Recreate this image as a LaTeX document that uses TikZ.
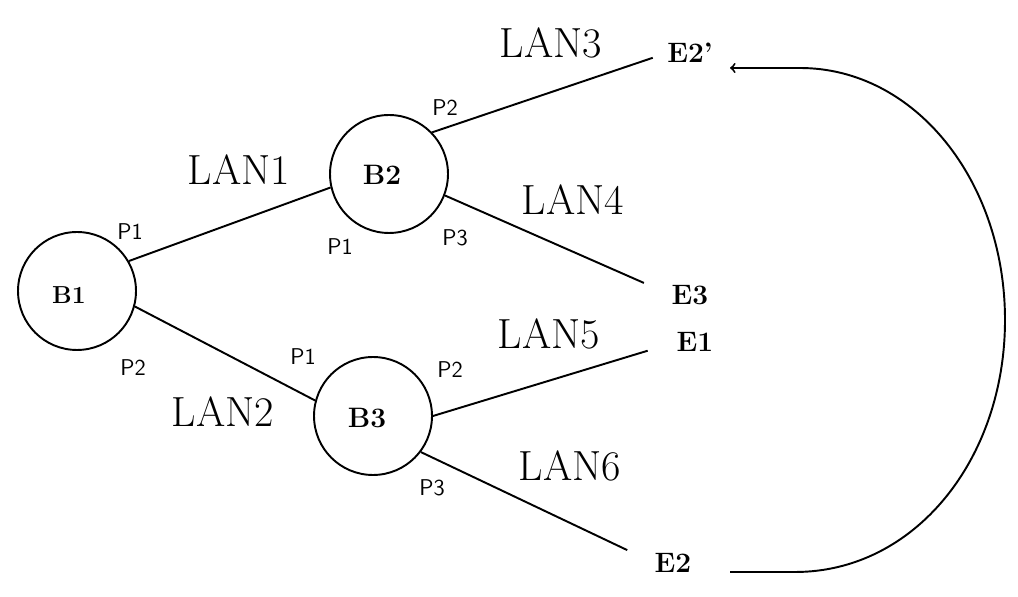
\documentclass[tikz,border=0pt]{standalone}
\usepackage{tikz}
\usetikzlibrary{positioning}

\begin{document}
\begin{tikzpicture}[
    x=0.02cm, y=-0.02cm,
    bridge/.style={circle, draw, line width=1.1pt, minimum size=2.36cm, inner sep=0pt},
    station/.style={inner sep=0pt, font=\fontsize{16}{18}\selectfont\bfseries},
    lanlbl/.style={font=\fontsize{24}{26}\selectfont},
    portlbl/.style={font=\fontsize{13}{15}\selectfont\sffamily},
    wire/.style={line width=1.1pt},
    backarc/.style={->, line width=1.1pt, >=to},
]
\useasboundingbox (0,0) rectangle (1018,597);

% bridges
\node[bridge] (B1) at (77,291) {};
\node[bridge] (B2) at (389,174) {};
\node[bridge] (B3) at (373,416) {};
\node at (69,295) {\fontsize{14}{16}\selectfont\bfseries B1};
\node at (382,175) {\fontsize{16}{18}\selectfont\bfseries B2};
\node at (367,418) {\fontsize{16}{18}\selectfont\bfseries B3};

% end stations
\node[station] (E2p) at (690,53) {E2'};
\node[station] (E3) at (690,295) {E3};
\node[station] (E1) at (695,342) {E1};
\node[station] (E2) at (673,563) {E2};

% LAN segments
\draw[wire] (B1.30) -- (B2.193);
\draw[wire] (B1.-15) -- (B3.165);
\draw[wire, shorten >=0.3cm] (B2.44) -- (E2p.west);
\draw[wire, shorten >=0.6cm] (B2.-21) -- (E3.west);
\draw[wire, shorten >=0.6cm] (B3.0) -- (E1.west);
\draw[wire, shorten >=0.6cm] (B3.-37) -- (E2.west);

\node[lanlbl] (lan1) at (239,170) {LAN1};
\node[lanlbl] (lan2) at (223,412) {LAN2};
\node[lanlbl] (lan3) at (551,43) {LAN3};
\node[lanlbl] (lan4) at (573,200) {LAN4};
\node[lanlbl] (lan5) at (549,334) {LAN5};
\node[lanlbl] (lan6) at (570,466) {LAN6};

% ports
\node[portlbl] (b1p1) at (130,232) {P1};
\node[portlbl] (b1p2) at (133,368) {P2};
\node[portlbl] (b2p1) at (340,247) {P1};
\node[portlbl] (b2p2) at (445,108) {P2};
\node[portlbl] (b2p3) at (455,238) {P3};
\node[portlbl] (b3p1) at (303,357) {P1};
\node[portlbl] (b3p2) at (450,370) {P2};
\node[portlbl] (b3p3) at (432,488) {P3};

% E2 moves over to LAN3
\coordinate (moveS) at (730,572);
\coordinate (moveE) at (730,68);
\draw[backarc] (moveS) -- (795,572)
    .. controls (915,572) and (1005,459) .. (1005,320)
    .. controls (1005,181) and (915,68) .. (800,68) -- (moveE);
\end{tikzpicture}
\end{document}
